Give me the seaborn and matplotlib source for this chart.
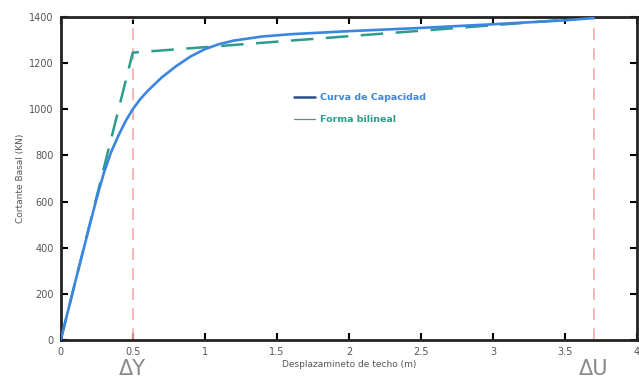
import matplotlib
matplotlib.use("Agg")
import matplotlib.pyplot as plt
import seaborn as sns
import pandas as pd
from matplotlib.lines import Line2D

# Capacity curve
cap_x = [0, 0.1, 0.2, 0.25, 0.3, 0.35, 0.4, 0.45, 0.5, 0.55, 0.6, 0.7, 0.8, 0.9, 1.0, 1.1, 1.2, 1.4, 1.6, 2.0, 2.5, 3.0, 3.5, 3.7]
cap_y = [0, 250, 495, 615, 725, 815, 885, 948, 1000, 1042, 1077, 1137, 1186, 1228, 1260, 1282, 1297, 1315, 1325, 1338, 1352, 1368, 1385, 1395]

# Bilinear form
bil_x = [0, 0.5, 3.7]
bil_y = [0, 1245, 1397]

# Reference lines
dy = 0.5
du = 3.7

xticks = [0, 0.5, 1, 1.5, 2, 2.5, 3, 3.5, 4]
xticklabels = ["0", "0.5", "1", "1.5", "2", "2.5", "3", "3.5", "4"]
yticks = [0, 200, 400, 600, 800, 1000, 1200, 1400]

sns.set_style("ticks")
plt.rcParams['font.family'] = ['DejaVu Sans']

fig = plt.figure(figsize=(6.39, 3.83), dpi=100)
ax = fig.add_axes([0.095, 0.112, 0.902, 0.844])

blue = "#3a86e0"
teal = "#2c9c8c"
pink = "#f2a8a8"

ax.axvline(dy, color=pink, lw=1.2, dashes=(7, 5), zorder=1)
ax.axvline(du, color=pink, lw=1.2, dashes=(7, 5), zorder=1)

df_cap = pd.DataFrame({"x": cap_x, "y": cap_y})
df_bil = pd.DataFrame({"x": bil_x, "y": bil_y})
sns.lineplot(data=df_bil, x="x", y="y", ax=ax, color=teal, lw=1.8, sort=False, zorder=2)
ax.lines[-1].set_dashes((9, 5))
sns.lineplot(data=df_cap, x="x", y="y", ax=ax, color=blue, lw=1.9, sort=False, zorder=3)

ax.set_xlim(0, 4)
ax.set_ylim(0, 1400)
ax.set_xticks(xticks)
ax.set_xticklabels(xticklabels)
ax.set_yticks(yticks)
ax.tick_params(direction="in", length=5, width=1.5, top=True, right=True,
               labelsize=7, labelcolor="#555555", color="black", pad=5)
for s in ax.spines.values():
    s.set_linewidth(2)
    s.set_color("#222222")

ax.set_xlabel("Desplazamineto de techo (m)", fontsize=6.5, color="#555555", labelpad=2)
ax.set_ylabel("Cortante Basal (KN)", fontsize=6.5, color="#555555", labelpad=3)

handles = [Line2D([], [], color="#2a4f8a", lw=1.8), Line2D([], [], color="#6a8a8a", lw=0.9)]
leg = ax.legend(handles, ["Curva de Capacidad", "Forma bilineal"], loc="upper left",
                bbox_to_anchor=(0.39, 0.79), frameon=False, fontsize=6.8,
                handlelength=2.2, handletextpad=0.6, labelspacing=1.4)
for t, c in zip(leg.get_texts(), [blue, teal]):
    t.set_color(c)
    t.set_fontweight("bold")

ax.text(dy, -0.06, "ΔY", transform=ax.get_xaxis_transform(), ha="center", va="top",
        fontsize=15, color="#8a8a8a")
ax.text(du, -0.06, "ΔU", transform=ax.get_xaxis_transform(), ha="center", va="top",
        fontsize=15, color="#8a8a8a")

fig.savefig("out.png", dpi=100)
